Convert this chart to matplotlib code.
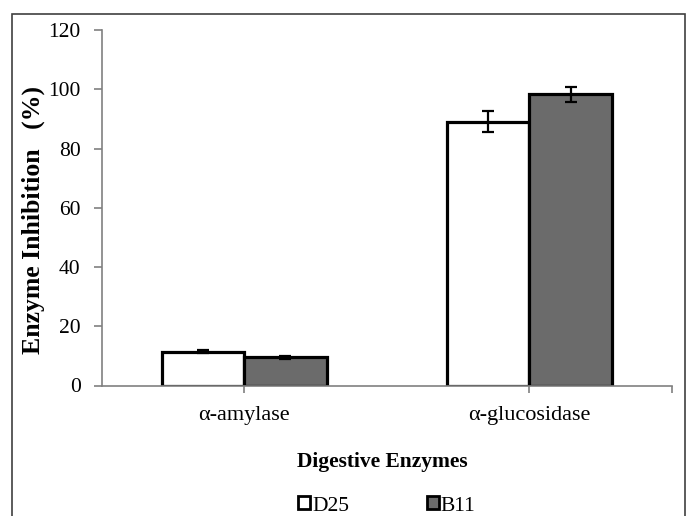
import numpy as np
import matplotlib
matplotlib.use("Agg")
import matplotlib.pyplot as plt
from matplotlib.patches import Rectangle, Patch

plt.rcParams['font.family'] = ['Liberation Serif', 'DejaVu Serif']

# data
enzymes = ['α-amylase', 'α-glucosidase']
d25 = [11.4, 89.0]
d25_err = [0.5, 3.5]
b11 = [9.6, 98.3]
b11_err = [0.5, 2.5]
series_names = ['D25', 'B11']

fig = plt.figure(figsize=(6.88, 5.16), dpi=100)
ax = fig.add_axes([101.5 / 688, 1 - 385.5 / 516, (672 - 101.5) / 688, (385.5 - 30) / 516])

x = np.arange(len(enzymes))
w = 82.5 / 285.25
ax.bar(x - w / 2, d25, w, color='white', edgecolor='black', linewidth=2.3, zorder=2)
ax.bar(x + w / 2, b11, w, color='#6b6b6b', edgecolor='black', linewidth=2.3, zorder=2)
ax.errorbar(x - w / 2, d25, yerr=d25_err, fmt='none', ecolor='black',
            elinewidth=1.6, capsize=4, capthick=1.6, zorder=3)
ax.errorbar(x + w / 2, b11, yerr=b11_err, fmt='none', ecolor='black',
            elinewidth=1.6, capsize=4, capthick=1.6, zorder=3)

ax.set_ylim(0, 120)
ax.set_yticks(np.arange(0, 121, 20))
ax.set_xlim(-0.5, 1.5)
ax.set_xticks(x)
ax.set_xticklabels(enzymes, fontsize=16)
ax.set_xticks([1.5], minor=True)

for s in ['top', 'right']:
    ax.spines[s].set_visible(False)
for s in ['left', 'bottom']:
    ax.spines[s].set_color('#808080')
    ax.spines[s].set_linewidth(1.2)
ax.tick_params(axis='y', labelsize=15.5, color='#808080', length=6, width=1.2, pad=9)
ax.tick_params(axis='x', which='both', color='#808080', length=5, width=1.2, pad=10)

ax.set_ylabel('Enzyme Inhibition   (%)', fontsize=18.5, fontweight='bold')
ax.yaxis.set_label_coords((45 - 101.5) / 570.5, (385.5 - 220) / 355.5)
ax.set_xlabel('Digestive Enzymes', fontsize=15.5, fontweight='bold')
ax.xaxis.set_label_coords((382 - 101.5) / 570.5, -(462 - 385.5) / 355.5)
ax.xaxis.label.set_va('center')

handles = [Patch(facecolor='white', edgecolor='black', linewidth=2.0),
           Patch(facecolor='#6b6b6b', edgecolor='black', linewidth=2.0)]
fig.legend(handles, series_names, loc='center', bbox_to_anchor=(387 / 688, 1 - 506 / 516),
           ncol=2, frameon=False, fontsize=15.5, handlelength=0.55, handleheight=0.55,
           handletextpad=0.1, columnspacing=3.6)

# outer frame around the figure
frame = Rectangle((12 / 688, -0.05), (685 - 12) / 688, 1.05 - 14 / 516,
                  transform=fig.transFigure, fill=False, edgecolor='#404040',
                  linewidth=1.2, clip_on=False)
fig.patches.append(frame)

fig.savefig('out.png', dpi=100)
